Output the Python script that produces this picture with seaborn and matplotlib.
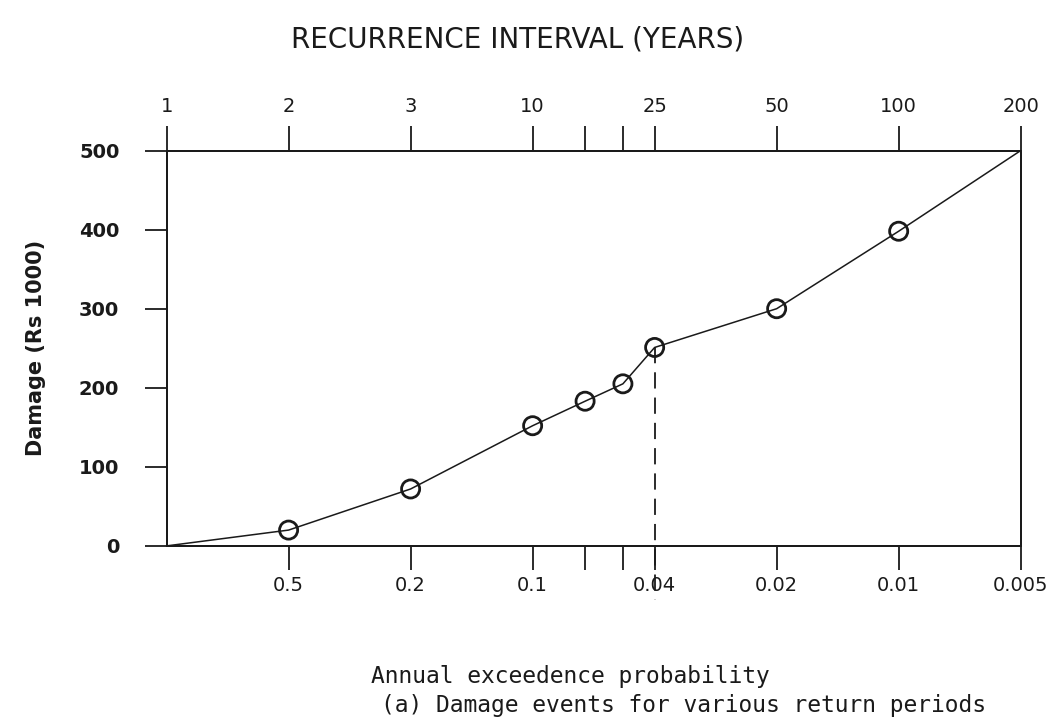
import matplotlib
matplotlib.use("Agg")
import matplotlib.pyplot as plt
import seaborn as sns
import pandas as pd

# ---- data ----
exceedance_prob = [1.0, 0.5, 0.2, 0.1, 0.067, 0.05, 0.04, 0.02, 0.01, 0.005]
# position of each probability on the hand-drawn probability axis
axis_position = [0, 1, 2, 3, 3.43, 3.74, 4, 5, 6, 7]
damage = [0, 20, 72, 152, 183, 205, 251, 300, 398, 500]
has_marker = [False, True, True, True, True, True, True, True, True, False]

bottom_ticks = [1, 2, 3, 3.43, 3.74, 4, 5, 6, 7]
bottom_tick_labels = ["0.5", "0.2", "0.1", "", "", "0.04", "0.02", "0.01", "0.005"]
top_ticks = [0, 1, 2, 3, 3.43, 3.74, 4, 5, 6, 7]
top_tick_labels = ["1", "2", "3", "10", "", "", "25", "50", "100", "200"]
y_ticks = [0, 100, 200, 300, 400, 500]
design_index = 6          # the 25-year / 0.04 event marked with a dashed drop line
drop_to = -68             # dashed line continues below the axis

df = pd.DataFrame({"pos": axis_position, "prob": exceedance_prob,
                   "damage": damage, "marked": has_marker})

sns.set_theme(style="white")
plt.rcParams["font.family"] = ["DejaVu Sans"]

fig = plt.figure(figsize=(10.61, 7.24), dpi=100)
ax = fig.add_axes([0.157, 0.246, 0.805, 0.546])

sns.lineplot(data=df, x="pos", y="damage", sort=False, estimator=None,
             color="#1a1a1a", linewidth=1.1, ax=ax)
sns.scatterplot(data=df[df["marked"]], x="pos", y="damage", ax=ax,
                marker="o", s=170, facecolor="none", edgecolor="#1a1a1a",
                linewidth=2.0, zorder=3)

ax.plot([df.pos[design_index]] * 2, [df.damage[design_index], drop_to],
        color="#1a1a1a", linewidth=1.3, dashes=(9, 5), clip_on=False)

ax.set_xlim(0, 7)
ax.set_ylim(0, 500)
ax.set_xlabel("")
ax.set_ylabel("Damage (Rs 1000)", fontsize=15, fontweight="bold",
              labelpad=24, color="#1a1a1a")

for s in ax.spines.values():
    s.set_visible(True)
    s.set_color("#1a1a1a")
    s.set_linewidth(1.4)

ax.set_yticks(y_ticks)
ax.set_yticklabels([str(v) for v in y_ticks], fontsize=14, fontweight="bold",
                   color="#1a1a1a")
ax.tick_params(axis="y", direction="out", length=16, width=1.3,
               pad=18, colors="#1a1a1a", left=True)

ax.set_xticks(bottom_ticks)
ax.set_xticklabels(bottom_tick_labels, fontsize=14, fontweight="medium",
                   color="#1a1a1a")
ax.tick_params(axis="x", direction="out", length=17, width=1.3,
               pad=5, colors="#1a1a1a", bottom=True)

top = ax.twiny()
top.set_xlim(ax.get_xlim())
top.set_xticks(top_ticks)
top.set_xticklabels(top_tick_labels, fontsize=14, fontweight="medium",
                    color="#1a1a1a")
top.tick_params(axis="x", direction="out", length=18, width=1.3,
                pad=7, colors="#1a1a1a", top=True)
for s in top.spines.values():
    s.set_linewidth(1.4)
    s.set_color("#1a1a1a")

fig.text(0.488, 0.945, "RECURRENCE INTERVAL (YEARS)", fontsize=20,
         ha="center", va="center", color="#1a1a1a")
fig.text(0.538, 0.065, "Annual exceedence probability", fontsize=16.5,
         family="DejaVu Sans Mono", ha="center", va="center", color="#1a1a1a")
fig.text(0.644, 0.026, "(a) Damage events for various return periods",
         fontsize=16.5, family="DejaVu Sans Mono", ha="center", va="center",
         color="#1a1a1a")

fig.savefig("out.png", dpi=100, facecolor="white")
